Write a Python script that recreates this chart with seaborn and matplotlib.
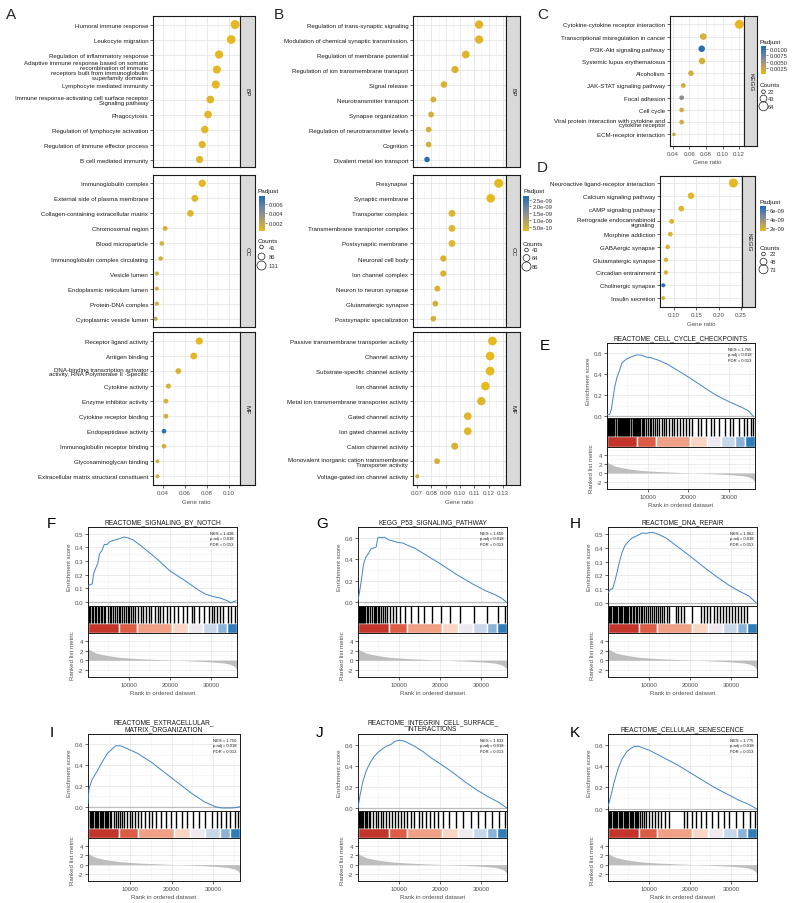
import numpy as np
import pandas as pd
import seaborn as sns
import matplotlib.pyplot as plt
from matplotlib.colors import LinearSegmentedColormap, Normalize
from matplotlib.cm import ScalarMappable

sns.set_style("white")
plt.rcParams['font.family'] = ['Liberation Sans', 'DejaVu Sans']

# ---------------- dot plot data ----------------
A_BP_terms = ["Humoral immune response", "Leukocyte migration", "Regulation of inflammatory response",
              "Adaptive immune response based on somatic\nrecombination of immune\nreceptors built from immunoglobulin\nsuperfamily domains",
              "Lymphocyte mediated immunity",
              "Immune response-activating cell surface receptor\nSignaling pathway",
              "Phagocytosis", "Regulation of lymphocyte activation",
              "Regulation of immune effector process", "B cell mediated immunity"]
A_BP_ratio = [0.1055, 0.102, 0.091, 0.089, 0.088, 0.083, 0.081, 0.078, 0.0757, 0.0733]
A_BP_count = [131, 127, 114, 111, 110, 104, 101, 97, 94, 91]
A_BP_padj = [0.0003, 0.0003, 0.0004, 0.0004, 0.0004, 0.0005, 0.0005, 0.0005, 0.0006, 0.0006]

A_CC_terms = ["Immunoglobulin complex", "External side of plasma membrane",
              "Collagen-containing extracellular matrix", "Chromosomal region", "Blood microparticle",
              "Immunoglobulin complex circulating", "Vesicle lumen", "Endoplasmic reticulum lumen",
              "Protein-DNA complex", "Cytoplasmic vesicle lumen"]
A_CC_ratio = [0.0757, 0.069, 0.065, 0.042, 0.039, 0.038, 0.0345, 0.0345, 0.0345, 0.0334]
A_CC_count = [95, 87, 82, 55, 51, 50, 46, 46, 46, 45]
A_CC_padj = [0.0004, 0.0005, 0.0006, 0.0009, 0.001, 0.0011, 0.0012, 0.0012, 0.0012, 0.0018]

A_MF_terms = ["Receptor ligand activity", "Antigen binding",
              "DNA-binding transcription activator\nactivity, RNA Polymerase II -Specific",
              "Cytokine activity", "Enzyme inhibitor activity", "Cytokine receptor binding",
              "Endopeptidase activity", "Immunoglobulin receptor binding", "Glycosaminoglycan binding",
              "Extracellular matrix structural constituent"]
A_MF_ratio = [0.073, 0.068, 0.054, 0.045, 0.0427, 0.0427, 0.041, 0.041, 0.035, 0.035]
A_MF_count = [92, 86, 68, 57, 54, 54, 52, 52, 43, 43]
A_MF_padj = [0.0004, 0.0005, 0.0008, 0.001, 0.0011, 0.0011, 0.0072, 0.0012, 0.0013, 0.0013]

B_BP_terms = ["Regulation of trans-synaptic signaling", "Modulation of chemical synaptic transmission.",
              "Regulation of membrane potential", "Regulation of ion transmembrane transport",
              "Signal release", "Neurotransmitter transport", "Synapse organization",
              "Regulation of neurotransmitter levels", "Cognition", "Divalent metal ion transport"]
B_BP_ratio = [0.1133, 0.1133, 0.104, 0.0965, 0.0888, 0.0814, 0.0798, 0.0781, 0.0781, 0.077]
B_BP_count = [79, 79, 73, 68, 62, 57, 56, 55, 55, 54]
B_BP_padj = [3e-10, 3e-10, 3e-10, 4e-10, 4e-10, 5e-10, 5e-10, 5e-10, 5e-10, 2.7e-9]

B_CC_terms = ["Presynapse", "Synaptic membrane", "Transporter complex", "Transmembrane transporter complex",
              "Postsynaptic membrane", "Neuronal cell body", "Ion channel complex",
              "Neuron to neuron synapse", "Glutamatergic synapse", "Postsynaptic specialization"]
B_CC_ratio = [0.127, 0.1214, 0.0944, 0.0944, 0.0944, 0.0884, 0.0884, 0.0842, 0.0828, 0.0814]
B_CC_count = [86, 82, 64, 64, 64, 60, 60, 57, 56, 55]
B_CC_padj = [2e-10, 2e-10, 3e-10, 3e-10, 3e-10, 4e-10, 4e-10, 4e-10, 5e-10, 5e-10]

B_MF_terms = ["Passive transmembrane transporter activity", "Channel activity",
              "Substrate-specific channel activity", "Ion channel activity",
              "Metal ion transmembrane transporter activity", "Gated channel activity",
              "Ion gated channel activity", "Cation channel activity",
              "Monovalent inorganic cation transmembrane\nTransporter activity",
              "Voltage-gated ion channel activity"]
B_MF_ratio = [0.1226, 0.121, 0.121, 0.1177, 0.1149, 0.1054, 0.1054, 0.0963, 0.084, 0.0702]
B_MF_count = [84, 83, 83, 81, 79, 72, 72, 66, 56, 45]
B_MF_padj = [2e-10, 2e-10, 2e-10, 2e-10, 3e-10, 3e-10, 3e-10, 4e-10, 5e-10, 6e-10]

C_terms = ["Cytokine-cytokine receptor interaction", "Transcriptional misregulation in cancer",
           "PI3K-Akt signaling pathway", "Systemic lupus erythematosus", "Alcoholism",
           "JAK-STAT signaling pathway", "Focal adhesion", "Cell cycle",
           "Viral protein interaction with cytokine and\ncytokine receptor", "ECM-receptor interaction"]
C_ratio = [0.1204, 0.0767, 0.0748, 0.0752, 0.0618, 0.0525, 0.0505, 0.0505, 0.0505, 0.0412]
C_count = [64, 41, 40, 40, 33, 28, 27, 27, 27, 22]
C_padj = [0.0003, 0.0012, 0.0108, 0.0013, 0.0015, 0.0016, 0.006, 0.0016, 0.0017, 0.0018]

D_terms = ["Neuroactive ligand-receptor interaction", "Calcium signaling pathway", "cAMP signaling pathway",
           "Retrograde endocannabinoid\nsignaling", "Morphine addiction", "GABAergic synapse",
           "Glutamatergic synapse", "Circadian entrainment", "Cholinergic synapse", "Insulin secretion"]
D_ratio = [0.2327, 0.138, 0.1164, 0.0948, 0.0917, 0.0859, 0.082, 0.082, 0.076, 0.076]
D_count = [73, 43, 36, 30, 29, 27, 26, 26, 24, 23]
D_padj = [1.5e-9, 1.6e-9, 1.7e-9, 1.8e-9, 1.8e-9, 1.9e-9, 1.9e-9, 1.9e-9, 6.7e-9, 2.0e-9]

# ---------------- GSEA data (ranks in thousands) ----------------
RANK_X = [0, 0.3, 1, 2, 3.5, 5, 8, 12, 16, 20, 24, 28, 31, 33.5, 35, 35.8, 36.4]
RANK_Y = [2.6, 2.2, 1.9, 1.5, 1.2, 0.95, 0.6, 0.35, 0.2, 0.05, -0.1, -0.25, -0.4, -0.6, -0.9, -1.3, -1.9]
STRIP_EDGES = [0, 7.5, 12, 20.5, 24.5, 28, 31.5, 34, 36.4]
STRIP_COLORS = ["#C3342B", "#DD5C45", "#F0A084", "#F8D5C4", "#EEEAF0", "#C6D8EA", "#89B4D8", "#2F7CB8"]

E_es_x = [0, 0.65, 1.06, 1.87, 2.44, 3.09, 3.66, 4.72, 5.93, 7.15, 8.37, 9.59, 10.8, 12.85, 14.88, 17.32,
          20.16, 23.41, 26.67, 29.92, 33.17, 34.8, 36.0]
E_es_y = [0.017, 0.017, 0.067, 0.275, 0.372, 0.44, 0.51, 0.545, 0.567, 0.586, 0.586, 0.567, 0.56, 0.533,
          0.497, 0.44, 0.372, 0.289, 0.206, 0.142, 0.086, 0.053, 0.0]
E_hits = [0.3, 0.5, 0.8, 1.0, 1.3, 1.5, 1.8, 2.1, 2.3, 2.6, 2.9, 3.1, 3.4, 3.6, 3.9, 4.2, 4.4, 4.7, 5.0, 5.2,
          5.5, 5.8, 6.0, 6.3, 6.6, 6.8, 7.1, 7.4, 7.6, 7.9, 8.2, 8.5, 8.8, 9.1, 9.6, 10.0, 10.5, 10.8, 11.3,
          11.9, 12.4, 12.8, 13.5, 14.1, 14.6, 15.3, 15.9, 16.6, 17.2, 18.0, 18.6, 19.5, 20.1, 21.0, 22.3,
          23.1, 24.4, 25.6, 26.4, 27.5, 29.0, 30.2, 31.0, 32.4, 33.6, 34.5, 35.3, 36.0]

F_es_x = [0, 0.57, 1.05, 1.37, 1.94, 2.42, 2.82, 3.39, 3.95, 4.6, 5.4, 6.61, 7.82, 8.79, 9.84, 11.05, 13.47,
          16.69, 19.92, 23.95, 27.18, 28.79, 30.81, 32.42, 34.03, 34.84, 36.2]
F_es_y = [0.117, 0.128, 0.133, 0.207, 0.252, 0.286, 0.354, 0.376, 0.421, 0.421, 0.444, 0.455, 0.466, 0.477,
          0.47, 0.455, 0.399, 0.32, 0.23, 0.151, 0.083, 0.056, 0.038, 0.027, 0.009, -0.007, 0.009]
F_hits = [0.2, 0.5, 0.9, 1.2, 1.6, 2.0, 2.4, 2.7, 3.1, 3.5, 3.9, 4.2, 4.8, 5.3, 5.7, 6.1, 6.6, 7.0, 7.5, 7.9,
          8.3, 8.8, 9.2, 9.7, 10.1, 10.6, 11.0, 11.6, 12.3, 12.9, 13.4, 14.2, 14.8, 15.5, 16.3, 17.0, 17.6,
          18.3, 19.2, 20.0, 21.1, 22.0, 23.2, 24.1, 25.3, 26.0, 27.2, 28.4, 29.5, 30.3, 30.9, 31.6, 32.2,
          33.0, 34.1, 35.0, 35.8]

G_es_x = [0, 0.4, 0.8, 1.37, 1.85, 2.5, 3.23, 3.9, 4.44, 4.84, 5.24, 5.8, 6.45, 7.5, 8.5, 9.68, 11.0, 12.1,
          14.0, 17.0, 20.0, 24.0, 28.0, 31.0, 33.5, 35.0, 36.3]
G_es_y = [0.02, 0.1, 0.2, 0.357, 0.414, 0.45, 0.5, 0.505, 0.514, 0.6, 0.605, 0.6, 0.605, 0.58, 0.57, 0.557,
          0.55, 0.53, 0.5, 0.43, 0.36, 0.26, 0.17, 0.11, 0.07, 0.04, 0.0]
G_hits = [0.2, 0.4, 0.7, 0.9, 1.2, 1.5, 1.8, 2.2, 2.5, 2.9, 3.3, 3.8, 4.2, 4.5, 4.8, 5.1, 5.5, 6.0, 6.6, 7.2,
          7.9, 8.5, 9.3, 10.2, 11.5, 13.0, 14.6, 16.2, 18.0, 20.3, 22.5, 25.0, 28.3, 31.5, 34.2, 35.9]

H_es_x = [0, 0.57, 1.13, 1.69, 2.18, 2.82, 3.39, 4.03, 4.76, 5.81, 7.02, 8.23, 9.44, 10.89, 12.26, 14.27,
          16.69, 19.92, 23.15, 26.37, 29.6, 32.02, 34.44, 36.2]
H_es_y = [0.074, 0.098, 0.103, 0.158, 0.218, 0.301, 0.361, 0.409, 0.438, 0.469, 0.486, 0.505, 0.505, 0.512,
          0.498, 0.469, 0.414, 0.342, 0.266, 0.194, 0.127, 0.086, 0.05, 0.002]
H_hits = [0.2, 0.5, 0.8, 1.1, 1.4, 1.7, 2.0, 2.3, 2.6, 2.9, 3.2, 3.5, 3.8, 4.1, 4.4, 4.7, 5.0, 5.3, 5.7, 6.0,
          6.4, 6.8, 7.2, 7.6, 8.0, 8.4, 8.8, 9.3, 9.8, 10.2, 10.7, 11.2, 11.7, 12.2, 12.7, 13.2, 13.8, 14.4,
          15.0, 16.6, 17.2, 17.9, 18.6, 20.5, 22.6, 23.4, 24.2, 25.0, 25.8, 26.6, 27.3, 28.0, 28.8, 29.5,
          30.2, 31.0, 31.8, 32.5, 33.3, 34.0]

I_es_x = [0, 0.24, 0.97, 2.18, 3.39, 4.6, 5.81, 6.61, 7.82, 9.44, 11.85, 15.08, 18.31, 21.53, 24.76, 27.99,
          30.4, 32.02, 34.44, 35.65, 36.4]
I_es_y = [0.03, 0.17, 0.26, 0.34, 0.43, 0.51, 0.557, 0.586, 0.586, 0.557, 0.514, 0.43, 0.33, 0.23, 0.129,
          0.043, 0.0, -0.014, -0.014, -0.009, 0.0]
I_hits = [0.1, 0.4, 0.7, 1.0, 1.3, 1.6, 1.9, 2.2, 2.5, 2.8, 3.1, 3.4, 3.7, 4.0, 4.3, 4.6, 4.9, 5.2, 5.5, 6.3,
          6.8, 7.2, 7.7, 8.2, 8.7, 9.3, 10.0, 10.6, 11.3, 12.0, 12.8, 13.6, 14.5, 15.3, 16.4, 17.4, 18.6,
          19.8, 21.0, 22.4, 23.8, 25.2, 26.6, 28.0, 29.6, 30.8, 31.9, 33.0, 34.0, 35.1, 36.0]

J_es_x = [0, 0.5, 1.2, 2.0, 3.0, 4.0, 5.0, 6.0, 7.0, 8.0, 9.0, 10.0, 11.0, 12.0, 14.0, 16.0, 18.0, 20.0, 23.0,
          26.0, 29.0, 32.0, 34.5, 36.3]
J_es_y = [0.0, 0.12, 0.25, 0.35, 0.43, 0.49, 0.53, 0.56, 0.585, 0.6, 0.63, 0.64, 0.635, 0.62, 0.58, 0.53,
          0.47, 0.42, 0.34, 0.25, 0.17, 0.1, 0.05, 0.0]
J_hits = [0.2, 0.4, 0.7, 1.0, 1.3, 1.6, 1.9, 2.2, 2.6, 3.0, 3.6, 4.3, 4.9, 5.6, 6.2, 6.9, 7.6, 8.3, 9.0, 9.7,
          10.5, 11.2, 12.0, 12.9, 13.8, 14.8, 15.7, 16.6, 17.6, 18.5, 19.5, 20.8, 22.3, 24.0, 25.6, 27.5,
          29.2, 31.0, 32.8, 34.5, 35.8]

K_es_x = [0, 0.7, 1.5, 2.5, 3.5, 4.5, 5.5, 6.5, 7.5, 8.5, 10.0, 12.0, 14.0, 17.0, 20.0, 23.0, 26.0, 29.0,
          32.0, 34.5, 36.3]
K_es_y = [0.02, 0.12, 0.25, 0.38, 0.47, 0.53, 0.565, 0.585, 0.585, 0.57, 0.55, 0.51, 0.47, 0.41, 0.34, 0.27,
          0.2, 0.14, 0.08, 0.04, 0.0]
K_hits = [0.2, 0.5, 0.8, 1.1, 1.4, 1.7, 2.0, 2.3, 2.6, 2.9, 3.2, 3.5, 3.8, 4.1, 4.4, 4.7, 5.0, 5.3, 5.6, 5.9,
          6.2, 6.5, 6.8, 7.1, 7.4, 7.8, 8.3, 8.8, 9.4, 10.0, 10.7, 11.4, 12.2, 13.0, 13.9, 14.8, 18.5, 19.4,
          20.5, 21.6, 22.8, 24.0, 25.3, 26.8, 28.3, 29.6, 31.2, 33.0, 34.6, 35.9]

RANK_MAX = 36400
W, H = 792, 904
fig = plt.figure(figsize=(W / 100, H / 100), dpi=100)
padj_cmap = LinearSegmentedColormap.from_list("padj", ["#E8B91F", "#8F8E95", "#1F6DB6"])
TXT = '#4D4D4D'


def px_axes(x0, y0, x1, y1):
    return fig.add_axes([x0 / W, 1 - y1 / H, (x1 - x0) / W, (y1 - y0) / H])


overlay = fig.add_axes([0, 0, 1, 1], zorder=20)
overlay.set_xlim(0, W)
overlay.set_ylim(H, 0)
overlay.axis('off')
overlay.patch.set_alpha(0)


def ftext(x, y, s, **kw):
    overlay.text(x, y, s, **kw)


def dot_panel(box, terms, ratio, padj, counts, xlim, xticks, xminor, strip, norm, size_norm, ylim, bottom, sw=14):
    x0, y0, x1, y1 = box
    ax = px_axes(x0, y0, x1, y1)
    df = pd.DataFrame({'term': terms, 'ratio': ratio, 'padj': padj, 'count': counts,
                       'pos': np.arange(len(terms))})
    sns.scatterplot(data=df, x='ratio', y='pos', hue='padj', size='count', palette=padj_cmap, hue_norm=norm,
                    sizes=(7, 42), size_norm=size_norm, edgecolor='none', legend=False, ax=ax, zorder=3)
    ax.set_xlim(xlim)
    ax.set_ylim(ylim)
    ax.set_yticks(df['pos'])
    ax.set_yticklabels(terms, fontsize=4.4, color='#1A1A1A')
    for t in ax.get_yticklabels():
        t.set_linespacing(0.95)
    ax.set_xticks(xticks)
    ax.set_xticklabels([f"{v:.2f}" for v in xticks], fontsize=4.4, color=TXT)
    ax.set_xticks(xminor, minor=True)
    ax.grid(True, which='major', color='#E6E6E6', lw=0.6)
    ax.grid(True, which='minor', axis='x', color='#F2F2F2', lw=0.4)
    ax.set_axisbelow(True)
    ax.set_xlabel('')
    ax.set_ylabel('')
    ax.tick_params(axis='y', length=2, width=0.5, pad=1.5, left=True)
    ax.tick_params(axis='x', which='minor', bottom=False)
    if bottom:
        ax.tick_params(axis='x', length=2, width=0.5, pad=1.5, bottom=True)
    else:
        ax.tick_params(axis='x', bottom=False, labelbottom=False)
    for s in ax.spines.values():
        s.set_color('#1A1A1A')
        s.set_linewidth(0.8)
    st = px_axes(x1, y0, x1 + sw, y1)
    st.set_facecolor('#D9D9D9')
    st.set_xticks([])
    st.set_yticks([])
    for s in st.spines.values():
        s.set_color('#1A1A1A')
        s.set_linewidth(0.8)
    st.text(0.5, 0.5, strip, rotation=-90, ha='center', va='center', fontsize=4.6, color='#1A1A1A',
            transform=st.transAxes)
    return ax


def legend(x, title_y, cb_box, norm, ticks, ticklabels, counts_title_y, count_vals, count_ys, size_norm,
           lab_dx=9):
    ftext(x, title_y, 'Padjust', fontsize=4.6, color='#1A1A1A', va='center')
    cax = px_axes(*cb_box)
    cb = fig.colorbar(ScalarMappable(norm=norm, cmap=padj_cmap), cax=cax)
    cb.set_ticks(ticks)
    cb.set_ticklabels(ticklabels)
    cb.outline.set_visible(False)
    cax.tick_params(labelsize=4.2, length=1.5, width=0.4, colors='#333333', pad=1)
    ftext(x, counts_title_y, 'Counts', fontsize=4.6, color='#1A1A1A', va='center')
    lo, hi = size_norm
    for c, yy in zip(count_vals, count_ys):
        s = 7 + (c - lo) / (hi - lo) * (42 - 7)
        overlay.scatter([x + 3.5], [yy], s=s, facecolors='none', edgecolors='#1A1A1A', linewidths=0.5)
        ftext(x + lab_dx, yy, str(c), fontsize=4.2, color='#333333', va='center')


def gsea_panel(x0, x1, ys, title, title_y, es_x, es_y, hits, ylim, yticks, nes, letter, letter_xy):
    y_top, y_es, y_bar, y_bot = ys
    xmaj = [10000, 20000, 30000]
    xmin = [5000, 15000, 25000, 35000]
    ax1 = px_axes(x0, y_top, x1, y_es)
    ax1.axhline(0, color='#BDBDBD', lw=0.9, zorder=1)
    sns.lineplot(x=np.array(es_x) * 1000, y=es_y, ax=ax1, color='#3F84CC', lw=0.7, zorder=3)
    ax1.set_xlim(0, RANK_MAX)
    ax1.set_ylim(ylim)
    ax1.set_xticks(xmaj)
    ax1.set_xticks(xmin, minor=True)
    ax1.set_yticks(yticks)
    step = yticks[1] - yticks[0]
    ax1.set_yticks([v + step / 2 for v in yticks], minor=True)
    ax1.set_yticklabels([f"{v:.1f}" for v in yticks], fontsize=4.4, color=TXT)
    ax1.tick_params(axis='x', which='both', bottom=False, labelbottom=False)
    ax1.tick_params(axis='y', which='major', length=2, width=0.5, pad=1.5, left=True)
    ax1.tick_params(axis='y', which='minor', left=False)
    ax1.grid(True, which='major', color='#E3E3E3', lw=0.5)
    ax1.grid(True, which='minor', color='#F1F1F1', lw=0.4)
    ax1.set_ylabel('Enrichment score', fontsize=4.4, color=TXT, labelpad=2)
    ax1.set_xlabel('')
    ax1.text(0.975, 0.95, nes + "\np.adj = 0.018\nFDR = 0.013", transform=ax1.transAxes, ha='right',
             va='top', fontsize=3.0, color='#1A1A1A', linespacing=1.5)

    ax2 = px_axes(x0, y_es, x1, y_bar)
    ax2.vlines(np.array(hits) * 1000, 0.38, 1, color='black', lw=1.0)
    spans = [(STRIP_EDGES[i] * 1000, (STRIP_EDGES[i + 1] - STRIP_EDGES[i]) * 1000)
             for i in range(len(STRIP_COLORS))]
    ax2.broken_barh(spans, (0, 0.37), facecolors=STRIP_COLORS)
    ax2.set_xlim(0, RANK_MAX)
    ax2.set_ylim(0, 1)
    ax2.set_xticks([])
    ax2.set_yticks([])

    ax3 = px_axes(x0, y_bar, x1, y_bot)
    ax3.fill_between(np.array(RANK_X) * 1000, 0, RANK_Y, color='#BEBEBE', lw=0)
    ax3.set_xlim(0, RANK_MAX)
    ax3.set_ylim(-3.5, 5.7)
    ax3.set_yticks([-2, 0, 2, 4])
    ax3.set_yticks([-3, -1, 1, 3, 5], minor=True)
    ax3.set_yticklabels(['-2', '0', '2', '4'], fontsize=4.4, color=TXT)
    ax3.set_xticks(xmaj)
    ax3.set_xticks(xmin, minor=True)
    ax3.set_xticklabels([str(v) for v in xmaj], fontsize=4.4, color=TXT)
    ax3.tick_params(axis='both', which='major', length=2, width=0.5, pad=1.5, left=True, bottom=True)
    ax3.tick_params(axis='both', which='minor', left=False, bottom=False)
    ax3.grid(True, which='major', color='#E3E3E3', lw=0.5)
    ax3.grid(True, which='minor', color='#F1F1F1', lw=0.4)
    ax3.set_axisbelow(True)
    ax3.set_ylabel('Ranked list metric', fontsize=4.4, color=TXT, labelpad=2)
    ax3.set_xlabel('Rank in ordered dataset', fontsize=4.4, color=TXT, labelpad=2)
    for a in (ax1, ax2, ax3):
        for s in a.spines.values():
            s.set_color('#1A1A1A')
            s.set_linewidth(0.7)
    ftext((x0 + x1) / 2, title_y, title, fontsize=4.8, color='#1A1A1A', ha='center', va='bottom',
          linespacing=1.0)
    ftext(letter_xy[0], letter_xy[1], letter, fontsize=11, color='black', va='center', ha='left')


# ---------------- panel A ----------------
nA = Normalize(0.0002, 0.0077)
snA = (41, 131)
dot_panel((153, 17, 240, 168), A_BP_terms, A_BP_ratio, A_BP_padj, A_BP_count, (0.031, 0.11),
          [0.04, 0.06, 0.08, 0.10], [0.05, 0.07, 0.09], 'BP', nA, snA, (9.5, -0.57), False, sw=15)
dot_panel((153, 176, 240, 328), A_CC_terms, A_CC_ratio, A_CC_padj, A_CC_count, (0.031, 0.11),
          [0.04, 0.06, 0.08, 0.10], [0.05, 0.07, 0.09], 'CC', nA, snA, (9.55, -0.55), False, sw=15)
dot_panel((153, 333, 240, 486), A_MF_terms, A_MF_ratio, A_MF_padj, A_MF_count, (0.031, 0.11),
          [0.04, 0.06, 0.08, 0.10], [0.05, 0.07, 0.09], 'MF', nA, snA, (9.58, -0.6), True, sw=15)
ftext(196.5, 503, 'Gene ratio', fontsize=4.4, color=TXT, ha='center', va='center')
legend(258, 191, (259, 197, 265, 232), nA, [0.002, 0.004, 0.006], ['0.002', '0.004', '0.006'],
       241.5, [41, 86, 131], [248, 257.5, 266.5], snA, lab_dx=11)

# ---------------- panel B ----------------
nB = Normalize(1.8e-10, 2.77e-9)
snB = (43, 86)
bt = [0.07, 0.08, 0.09, 0.10, 0.11, 0.12, 0.13]
bm = [0.075, 0.085, 0.095, 0.105, 0.115, 0.125]
dot_panel((413, 17, 506, 168), B_BP_terms, B_BP_ratio, B_BP_padj, B_BP_count, (0.0672, 0.1321), bt, bm,
          'BP', nB, snB, (9.5, -0.57), False)
dot_panel((413, 176, 506, 328), B_CC_terms, B_CC_ratio, B_CC_padj, B_CC_count, (0.0672, 0.1321), bt, bm,
          'CC', nB, snB, (9.55, -0.55), False)
dot_panel((413, 333, 506, 486), B_MF_terms, B_MF_ratio, B_MF_padj, B_MF_count, (0.0672, 0.1321), bt, bm,
          'MF', nB, snB, (9.58, -0.6), True)
ftext(459.5, 503, 'Gene ratio', fontsize=4.4, color=TXT, ha='center', va='center')
legend(523, 191, (523, 197, 529, 232), nB, [5e-10, 1e-9, 1.5e-9, 2e-9, 2.5e-9],
       ['5.0e-10', '1.0e-09', '1.5e-09', '2.0e-09', '2.5e-09'], 244, [43, 64, 86], [251, 259, 267.5], snB)

# ---------------- panel C ----------------
nC = Normalize(0.0001, 0.0112)
snC = (22, 64)
dot_panel((670, 17, 744, 147), C_terms, C_ratio, C_padj, C_count, (0.0364, 0.126),
          [0.04, 0.06, 0.08, 0.10, 0.12], [0.05, 0.07, 0.09, 0.11], 'KEGG', nC, snC, (9.95, -0.68), True,
          sw=13)
ftext(707, 163, 'Gene ratio', fontsize=4.4, color=TXT, ha='center', va='center')
legend(760, 42.7, (761, 47, 766, 75), nC, [0.0025, 0.005, 0.0075, 0.01],
       ['0.0025', '0.0050', '0.0075', '0.0100'], 85.7, [22, 43, 64], [92.7, 99.5, 107.3], snC, lab_dx=8)

# ---------------- panel D ----------------
nD = Normalize(1.4e-9, 6.8e-9)
snD = (22, 73)
dot_panel((660, 177, 742, 308), D_terms, D_ratio, D_padj, D_count, (0.0687, 0.252),
          [0.10, 0.15, 0.20, 0.25], [0.075, 0.125, 0.175, 0.225], 'KEGG', nD, snD, (9.7, -0.55), True, sw=13)
ftext(701, 325, 'Gene ratio', fontsize=4.4, color=TXT, ha='center', va='center')
legend(760, 202.7, (760, 207, 766, 232), nD, [2e-9, 4e-9, 6e-9], ['2e-09', '4e-09', '6e-09'],
       248.3, [22, 48, 73], [255, 262.7, 270.3], snD, lab_dx=10)

ftext(6, 15, 'A', fontsize=11, va='center')
ftext(274, 15, 'B', fontsize=11, va='center')
ftext(537, 15, 'C', fontsize=11, va='center')
ftext(537, 168, 'D', fontsize=11, va='center')

# ---------------- GSEA panels ----------------
row2 = (528, 607, 634, 678)
row3 = (735, 812, 839, 882)
gsea_panel(607, 755, (344, 419, 448, 490), 'REACTOME_CELL_CYCLE_CHECKPOINTS', 342, E_es_x, E_es_y, E_hits,
           (-0.015, 0.61), [0.0, 0.2, 0.4, 0.6], 'NES = 1.765', 'E', (540, 346))
gsea_panel(88, 237, row2, 'REACTOME_SIGNALING_BY_NOTCH', 526, F_es_x, F_es_y, F_hits,
           (-0.03, 0.505), [0.0, 0.1, 0.2, 0.3, 0.4, 0.5], 'NES = 1.438', 'F', (47, 524))
gsea_panel(358, 507, row2, 'KEGG_P53_SIGNALING_PATHWAY', 526, G_es_x, G_es_y, G_hits,
           (-0.035, 0.645), [0.0, 0.2, 0.4, 0.6], 'NES = 1.650', 'G', (316, 524))
gsea_panel(608, 757, row2, 'REACTOME_DNA_REPAIR', 526, H_es_x, H_es_y, H_hits,
           (-0.022, 0.545), [0.0, 0.1, 0.2, 0.3, 0.4, 0.5], 'NES = 1.962', 'H', (570, 524))
gsea_panel(88, 240, row3, 'REACTOME_EXTRACELLULAR_\nMATRIX_ORGANIZATION', 733, I_es_x, I_es_y, I_hits,
           (-0.043, 0.614), [0.0, 0.2, 0.4, 0.6], 'NES = 1.750', 'I', (50, 733))
gsea_panel(358, 507, row3, 'REACTOME_INTEGRIN_CELL_SURFACE_\nINTERACTIONS', 733, J_es_x, J_es_y, J_hits,
           (-0.03, 0.68), [0.0, 0.2, 0.4, 0.6], 'NES = 1.833', 'J', (316, 733))
gsea_panel(608, 757, row3, 'REACTOME_CELLULAR_SENESCENCE', 733, K_es_x, K_es_y, K_hits,
           (-0.02, 0.62), [0.0, 0.2, 0.4, 0.6], 'NES = 1.775', 'K', (570, 733))

fig.savefig('out.png', dpi=100)
